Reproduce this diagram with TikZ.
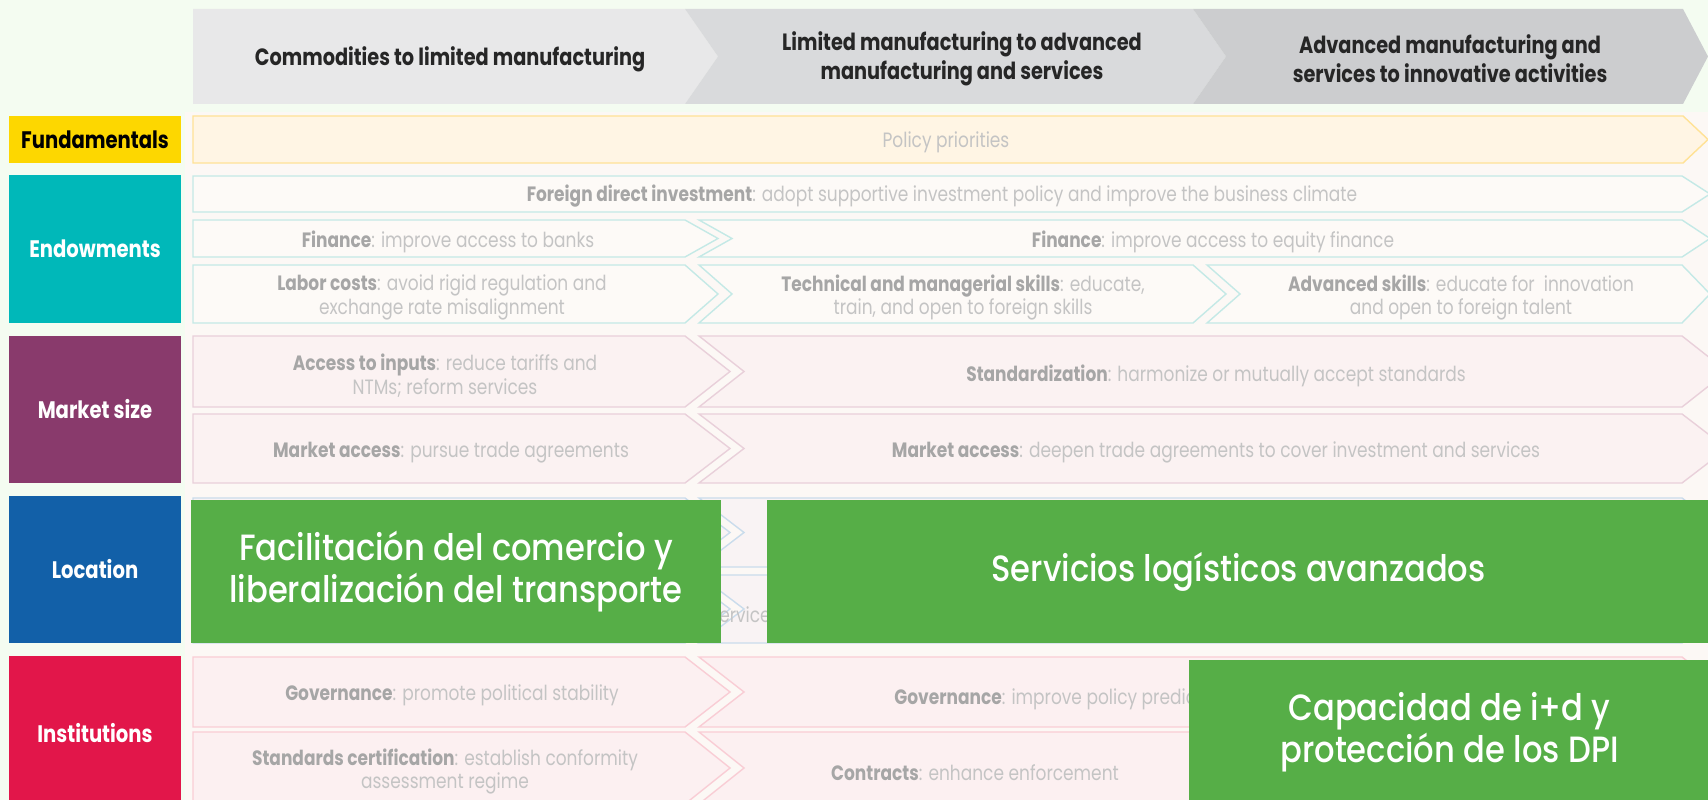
\documentclass[tikz,border=0pt]{standalone}
\usepackage{fontspec}
\setmainfont{Poppins}[FakeStretch=0.82]
\newfontfamily\greenfont{Poppins Medium}[FakeStretch=0.88]
\usepackage{tikz}
\usepackage{xcolor}
\definecolor{pagebg}{RGB}{244,252,241}
\definecolor{panelbg}{RGB}{252,248,245}
\definecolor{seglight}{RGB}{232,232,233}
\definecolor{segmid}{RGB}{217,218,220}
\definecolor{segdark}{RGB}{204,205,207}
\definecolor{fundyellow}{RGB}{253,215,0}
\definecolor{endowteal}{RGB}{0,184,185}
\definecolor{marketpurple}{RGB}{137,58,108}
\definecolor{locblue}{RGB}{18,96,168}
\definecolor{instred}{RGB}{226,22,74}
\definecolor{overgreen}{RGB}{86,174,71}
\definecolor{fadegray}{RGB}{196,196,196}
\definecolor{fadebold}{RGB}{166,166,166}
\definecolor{fundfill}{RGB}{255,245,228}
\definecolor{fundline}{RGB}{255,226,150}
\definecolor{endfill}{RGB}{253,250,247}
\definecolor{endline}{RGB}{196,233,230}
\definecolor{mktfill}{RGB}{251,242,242}
\definecolor{mktline}{RGB}{233,208,218}
\definecolor{locfill}{RGB}{249,243,244}
\definecolor{locline}{RGB}{202,220,236}
\definecolor{instfill}{RGB}{252,240,241}
\definecolor{instline}{RGB}{249,205,213}
\newcommand{\kw}[1]{\textcolor{fadebold}{\textbf{#1}}}

\begin{document}
\begin{tikzpicture}[x=0.1mm, y=-0.1mm,
    catbox/.style={rectangle, inner sep=0pt, minimum width=17.2mm, font=\fontsize{6.8}{9}\selectfont\bfseries, text=white},
    hdtext/.style={align=center, font=\fontsize{6.7}{8.3}\selectfont\bfseries, text=black!85, yshift=-0.2mm},
    rowtext/.style={align=center, font=\fontsize{5.9}{6.8}\selectfont, text=fadegray, yshift=-0.25mm},
    greenbox/.style={rectangle, fill=overgreen, inner sep=0pt, align=center, text=white, font=\greenfont\fontsize{10.4}{12}\selectfont},
    fundrow/.style={fill=fundfill, draw=fundline, line width=0.4pt},
    endrow/.style={fill=endfill, draw=endline, line width=0.4pt},
    mktrow/.style={fill=mktfill, draw=mktline, line width=0.4pt},
    locrow/.style={fill=locfill, draw=locline, line width=0.4pt},
    instrow/.style={fill=instfill, draw=instline, line width=0.4pt}]
    \useasboundingbox (0,0) rectangle (1708,800);
    \clip (0,0) rectangle (1708,800);
    \fill[pagebg] (0,0) rectangle (1708,800);
    \fill[panelbg] (185,112) rectangle (1708,800);

    \fill[seglight] (193,9) -- (685,9) -- (718,56.5) -- (685,104) -- (193,104) -- cycle;
    \fill[segmid] (685,9) -- (1193,9) -- (1226,56.5) -- (1193,104) -- (685,104) -- (718,56.5) -- cycle;
    \fill[segdark] (1193,9) -- (1683,9) -- (1708,56.5) -- (1683,104) -- (1193,104) -- (1226,56.5) -- cycle;
    \node[hdtext] (hdA) at (450,57) {Commodities to limited manufacturing};
    \node[hdtext] (hdB) at (962,57) {Limited manufacturing to advanced\\manufacturing and services};
    \node[hdtext] (hdC) at (1450,57) {Advanced manufacturing and\\services to innovative activities};

    \node[catbox, fill=fundyellow, text=black, minimum height=4.7mm] (fund) at (95,139.5) {Fundamentals};
    \node[catbox, fill=endowteal, minimum height=14.8mm] (endow) at (95,249) {Endowments};
    \node[catbox, fill=marketpurple, minimum height=14.7mm] (market) at (95,409.5) {Market size};
    \node[catbox, fill=locblue, minimum height=14.7mm] (loc) at (95,569.5) {Location};
    \node[catbox, fill=instred, minimum height=15.4mm] (inst) at (95,733) {Institutions};

    \draw[fundrow] (193,116) -- (1683,116) -- (1708,139.5) -- (1683,163) -- (193,163) -- cycle;
    \node[rowtext] (pp) at (946,140) {Policy priorities};

    \draw[endrow] (193,176) -- (1682,176) -- (1710,194) -- (1682,212) -- (193,212) -- cycle;
    \draw[endrow] (193,220) -- (685,220) -- (718,238.5) -- (685,257) -- (193,257) -- cycle;
    \draw[endrow] (699,220) -- (1682,220) -- (1710,238.5) -- (1682,257) -- (699,257) -- (732,238.5) -- cycle;
    \draw[endrow] (193,265) -- (685,265) -- (718,294) -- (685,323) -- (193,323) -- cycle;
    \draw[endrow] (699,265) -- (1193,265) -- (1226,294) -- (1193,323) -- (699,323) -- (732,294) -- cycle;
    \draw[endrow] (1207,265) -- (1682,265) -- (1710,294) -- (1682,323) -- (1207,323) -- (1240,294) -- cycle;
    \node[rowtext] (fdi) at (942,194) {\kw{Foreign direct investment}: adopt supportive investment policy and improve the business climate};
    \node[rowtext] (finA) at (448,239) {\kw{Finance}: improve access to banks};
    \node[rowtext] (finB) at (1213,239) {\kw{Finance}: improve access to equity finance};
    \node[rowtext] (labor) at (442,295) {\kw{Labor costs}: avoid rigid regulation and\\exchange rate misalignment};
    \node[rowtext] (techsk) at (963,295) {\kw{Technical and managerial skills}: educate,\\train, and open to foreign skills};
    \node[rowtext] (advsk) at (1461,295) {\kw{Advanced skills}: educate for\ \ innovation\\and open to foreign talent};

    \draw[mktrow] (193,336) -- (685,336) -- (730,371.5) -- (685,407) -- (193,407) -- cycle;
    \draw[mktrow] (699,336) -- (1682,336) -- (1727,371.5) -- (1682,407) -- (699,407) -- (744,371.5) -- cycle;
    \draw[mktrow] (193,414) -- (685,414) -- (730,448.5) -- (685,483) -- (193,483) -- cycle;
    \draw[mktrow] (699,414) -- (1682,414) -- (1727,448.5) -- (1682,483) -- (699,483) -- (744,448.5) -- cycle;
    \node[rowtext] (inputs) at (445,373) {\kw{Access to inputs}: reduce tariffs and\\NTMs; reform services};
    \node[rowtext] (stdz) at (1216,373) {\kw{Standardization}: harmonize or mutually accept standards};
    \node[rowtext] (mktA) at (451,450) {\kw{Market access}: pursue trade agreements};
    \node[rowtext] (mktB) at (1216,450) {\kw{Market access}: deepen trade agreements to cover investment and services};

    \draw[locrow] (193,498) -- (685,498) -- (730,532.5) -- (685,567) -- (193,567) -- cycle;
    \draw[locrow] (699,498) -- (1682,498) -- (1727,532.5) -- (1682,567) -- (699,567) -- (744,532.5) -- cycle;
    \draw[locrow] (193,575) -- (685,575) -- (730,609) -- (685,643) -- (193,643) -- cycle;
    \draw[locrow] (699,575) -- (1682,575) -- (1727,609) -- (1682,643) -- (699,643) -- (744,609) -- cycle;
    \node[rowtext, anchor=west] (logsv) at (698,612) {services};

    \draw[instrow] (193,657) -- (685,657) -- (730,692) -- (685,727) -- (193,727) -- cycle;
    \draw[instrow] (699,657) -- (1682,657) -- (1727,692) -- (1682,727) -- (699,727) -- (744,692) -- cycle;
    \draw[instrow] (193,732) -- (685,732) -- (730,768) -- (685,804) -- (193,804) -- cycle;
    \draw[instrow] (699,732) -- (1682,732) -- (1727,768) -- (1682,804) -- (699,804) -- (744,768) -- cycle;
    \node[rowtext] (govA) at (452,693) {\kw{Governance}: promote political stability};
    \node[rowtext, anchor=west] (govB) at (882,697) {\kw{Governance}: improve policy predictability};
    \node[rowtext] (stdcert) at (445,769) {\kw{Standards certification}: establish conformity\\assessment regime};
    \node[rowtext] (contr) at (975,770) {\kw{Contracts}: enhance enforcement};

    \node[greenbox, minimum width=53mm, minimum height=14.3mm] (gA) at (456,571.5) {\raisebox{-0.5mm}{\parbox{50mm}{\centering Facilitación del comercio y\\liberalización del transporte}}};
    \node[greenbox, minimum width=94.3mm, minimum height=14.3mm] (gB) at (1238.5,571.5) {Servicios logísticos avanzados};
    \node[greenbox, minimum width=52.1mm, minimum height=14.5mm] (gC) at (1449.5,732.5) {\raisebox{-0.5mm}{\parbox{50mm}{\centering Capacidad de i+d y\\protección de los DPI}}};
\end{tikzpicture}
\end{document}
